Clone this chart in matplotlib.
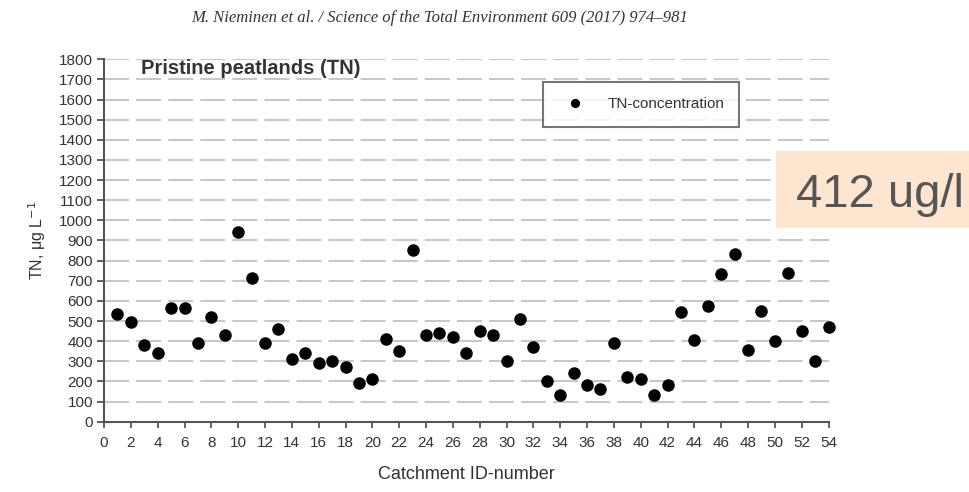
import matplotlib
matplotlib.use("Agg")
from matplotlib import pyplot as plt
from matplotlib.patches import Rectangle

# catchment ids and TN concentrations (ug/l)
catchment_id = list(range(1, 55))
tn_conc = [535, 494, 381, 342, 563, 563, 391, 522, 433, 941,
           713, 391, 461, 312, 342, 292, 303, 273, 191, 210,
           411, 353, 854, 433, 443, 423, 342, 452, 433, 303,
           511, 373, 200, 133, 242, 184, 161, 393, 224, 212,
           133, 184, 547, 408, 577, 734, 834, 356, 548, 403,
           737, 452, 303, 472]

x_ticks = list(range(0, 55, 2))
y_ticks = list(range(0, 1801, 100))

header = "M. Nieminen et al. / Science of the Total Environment 609 (2017) 974\u2013981"
panel_title = "Pristine peatlands (TN)"
legend_label = "TN-concentration"
callout = "412 ug/l"

plt.rcParams['font.family'] = ['Liberation Sans', 'DejaVu Sans']

fig = plt.figure(figsize=(9.69, 4.92), dpi=100)
ax = fig.add_axes([104 / 969, 1 - 421.7 / 492, (828.5 - 104) / 969, 362.4 / 492])

ax.plot(catchment_id, tn_conc, 'o', color='black', markersize=8,
        label=legend_label, clip_on=False, zorder=3)

ax.set_xlim(0, 54)
ax.set_ylim(0, 1800)
ax.set_xticks(x_ticks)
ax.set_yticks(y_ticks)

# dashed horizontal grid
for yv in y_ticks[1:]:
    ax.axhline(yv, color='#c8c8c8', lw=1.5, linestyle=(0, (12, 3.4)), zorder=1)

for side in ['top', 'right']:
    ax.spines[side].set_visible(False)
for side in ['left', 'bottom']:
    ax.spines[side].set_color('#555555')
    ax.spines[side].set_linewidth(1.5)

ax.tick_params(axis='y', direction='out', length=5, width=1.3, color='#555555',
               labelsize=11, labelcolor='#333333', pad=3)
ax.tick_params(axis='x', direction='out', length=4, width=1.3, color='#555555',
               labelsize=11, labelcolor='#333333', pad=6)

ax.set_xlabel("Catchment ID-number", fontsize=13, color='#333333', labelpad=12)
ax.set_ylabel("TN, \u03bcg L$^{-1}$", fontsize=11.5, color='#333333', labelpad=8)

fig.text(141 / 969, 1 - 69 / 492, panel_title,
         fontsize=14.5, fontweight='bold', color='#333333', va='center', ha='left')

leg = ax.legend(loc='upper left', bbox_to_anchor=((543 - 104) / 724.5, (421.7 - 82) / 362.4),
                fontsize=11, frameon=True, fancybox=False, markerscale=0.7,
                borderpad=1.0, handlelength=2.2, handletextpad=1.0, borderaxespad=0)
leg.get_frame().set_edgecolor('#555555')
leg.get_frame().set_linewidth(1.5)
for t in leg.get_texts():
    t.set_color('#333333')

# journal header line
fig.text(440 / 969, 1 - 18 / 492, header, fontsize=12, style='italic',
         family=['Liberation Serif', 'DejaVu Serif'], color='#333333',
         ha='center', va='center')

# highlighted value callout
fig.patches.append(Rectangle((776 / 969, 1 - 228 / 492), 193 / 969, 77 / 492,
                             transform=fig.transFigure, facecolor='#fde5cf',
                             edgecolor='none', zorder=5))
fig.text(796 / 969, 1 - 207 / 492, callout, fontsize=34, color='#555555',
         ha='left', va='baseline', zorder=6)

fig.savefig("out.png", dpi=100)
